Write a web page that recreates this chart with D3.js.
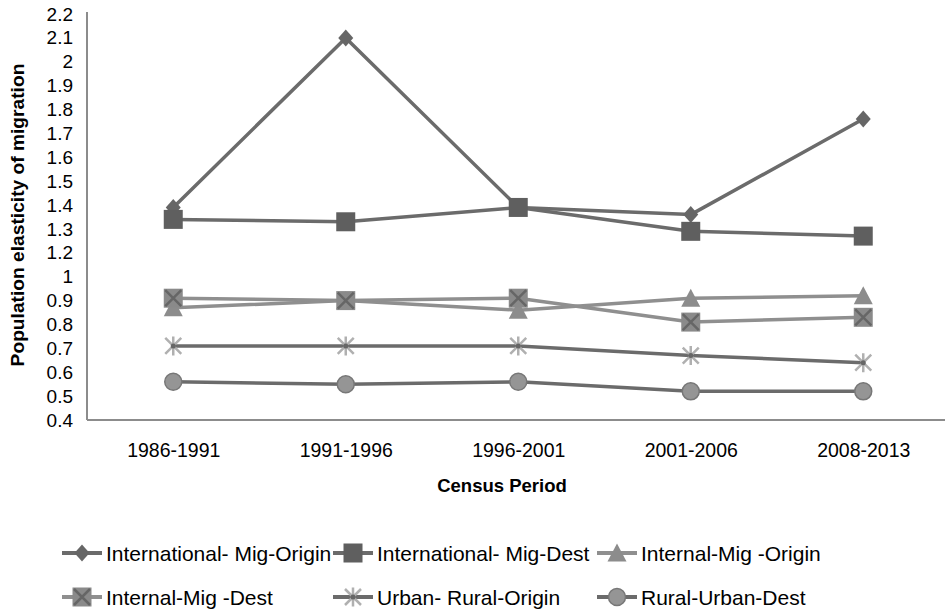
<!DOCTYPE html>
<html>
<head>
<meta charset="utf-8">
<script src="https://cdn.jsdelivr.net/npm/d3@7"></script>
<style>
  html, body { margin: 0; padding: 0; background: #fff; }
  svg { display: block; font-family: "Liberation Sans", Arial, sans-serif; }
</style>
</head>
<body>
<svg id="chart" width="945" height="610"></svg>
<script>
// ---- data ----
const categories = ["1986-1991", "1991-1996", "1996-2001", "2001-2006", "2008-2013"];
const intlMigOrigin = [1.39, 2.10, 1.39, 1.36, 1.76];
const intlMigDest = [1.34, 1.33, 1.39, 1.29, 1.27];
const internalMigOrigin = [0.87, 0.90, 0.86, 0.91, 0.92];
const internalMigDest = [0.91, 0.90, 0.91, 0.81, 0.83];
const urbanRuralOrigin = [0.71, 0.71, 0.71, 0.67, 0.64];
const ruralUrbanDest = [0.56, 0.55, 0.56, 0.52, 0.52];
const seriesNames = ["International- Mig-Origin", "International- Mig-Dest", "Internal-Mig -Origin",
                     "Internal-Mig -Dest", "Urban- Rural-Origin", "Rural-Urban-Dest"];
const yTickValues = [0.4, 0.5, 0.6, 0.7, 0.8, 0.9, 1.0, 1.2, 1.3, 1.4, 1.5, 1.6, 1.7, 1.8, 1.9, 2.0, 2.1, 2.2];
const yTickLabels = ["0.4", "0.5", "0.6", "0.7", "0.8", "0.9", "1", "1.2", "1.3", "1.4", "1.5", "1.6", "1.7", "1.8", "1.9", "2", "2.1", "2.2"];
const xTitle = "Census Period";
const yTitle = "Population elasticity of migration";

// ---- layout ----
const svg = d3.select("#chart");
const pLeft = 87, pRight = 949.5, pTop = 14, pBottom = 420;
const step = (pBottom - pTop) / (yTickValues.length - 1);

const x = d3.scalePoint().domain(categories).range([pLeft, pRight]).padding(0.5);
// the printed axis has evenly spaced labels (no 1.1), so map values label-to-label
const y = d3.scaleLinear()
  .domain([0.4, 1.0, 1.2, 2.2])
  .range([pBottom, pBottom - 6 * step, pBottom - 7 * step, pTop]);

const axisColor = "#8c8c8c";

// axes
const xAxis = svg.append("g").attr("transform", `translate(0,${pBottom})`)
  .call(d3.axisBottom(x).tickSize(0).tickPadding(23));
xAxis.select(".domain").attr("stroke", axisColor).attr("stroke-width", 2)
  .attr("d", `M${pLeft},0H945`);
xAxis.selectAll("text").attr("font-size", 19.5).attr("fill", "#000")
  .attr("font-family", "Liberation Sans, Arial, sans-serif");

const yAxis = svg.append("g").attr("transform", `translate(${pLeft},0)`)
  .call(d3.axisLeft(y).tickValues(yTickValues).tickSize(0).tickPadding(14)
    .tickFormat((d, i) => yTickLabels[i]));
yAxis.select(".domain").attr("stroke", axisColor).attr("stroke-width", 2)
  .attr("d", `M0,${pTop - 2}V${pBottom}`);
yAxis.selectAll("text").attr("font-size", 19).attr("fill", "#000")
  .attr("font-family", "Liberation Sans, Arial, sans-serif");

// titles
svg.append("text").attr("x", (pLeft + 945) / 2 - 14).attr("y", 492)
  .attr("text-anchor", "middle").attr("font-weight", "bold").attr("font-size", 18.5)
  .text(xTitle);
svg.append("text").attr("transform", `translate(24,${(pTop + pBottom) / 2 - 2}) rotate(-90)`)
  .attr("text-anchor", "middle").attr("font-weight", "bold").attr("font-size", 19.2)
  .text(yTitle);

// ---- marker drawing ----
const dark = "#6b6b6b", light = "#8f8f8f";
function marker(g, type) {
  if (type === "diamond") {
    g.append("path").attr("d", "M0,-8.5L7.5,0L0,8.5L-7.5,0Z").attr("fill", "#666");
  } else if (type === "square") {
    g.append("rect").attr("x", -9.5).attr("y", -9.5).attr("width", 19).attr("height", 19).attr("fill", "#5f5f5f");
  } else if (type === "triangle") {
    g.append("path").attr("d", "M0,-9.5L9.5,8.5L-9.5,8.5Z").attr("fill", "#8c8c8c");
  } else if (type === "xsquare") {
    g.append("rect").attr("x", -9.5).attr("y", -9.5).attr("width", 19).attr("height", 19).attr("fill", "#8a8a8a");
    g.append("path").attr("d", "M-8,-8L8,8M8,-8L-8,8").attr("stroke", "#666").attr("stroke-width", 2.5);
  } else if (type === "star") {
    g.append("path").attr("d", "M-8,-8L8,8M8,-8L-8,8M0,-9.5V9.5").attr("stroke", "#b0b0b0").attr("stroke-width", 2.5);
    g.append("circle").attr("r", 2.5).attr("fill", "#666");
  } else if (type === "circle") {
    g.append("circle").attr("r", 8.5).attr("fill", "#959595").attr("stroke", "#777").attr("stroke-width", 1.5);
  }
}

const series = [
  { name: seriesNames[0], values: intlMigOrigin, color: dark, marker: "diamond" },
  { name: seriesNames[1], values: intlMigDest, color: dark, marker: "square" },
  { name: seriesNames[2], values: internalMigOrigin, color: light, marker: "triangle" },
  { name: seriesNames[3], values: internalMigDest, color: light, marker: "xsquare" },
  { name: seriesNames[4], values: urbanRuralOrigin, color: dark, marker: "star" },
  { name: seriesNames[5], values: ruralUrbanDest, color: dark, marker: "circle" }
];

const line = d3.line().x((d, i) => x(categories[i])).y(d => y(d));

series.forEach(s => {
  const g = svg.append("g");
  g.append("path").attr("d", line(s.values)).attr("fill", "none")
    .attr("stroke", s.color).attr("stroke-width", 3.5).attr("stroke-linejoin", "round");
  s.values.forEach((v, i) => {
    const m = g.append("g").attr("transform", `translate(${x(categories[i])},${y(v)})`);
    marker(m, s.marker);
  });
});

// ---- legend ----
const legendCols = [62, 333, 597];
const legendRows = [553, 597];
series.forEach((s, i) => {
  const lx = legendCols[i % 3], ly = legendRows[Math.floor(i / 3)];
  const g = svg.append("g").attr("transform", `translate(${lx},${ly})`);
  g.append("line").attr("x1", 0).attr("x2", 40).attr("y1", 0).attr("y2", 0)
    .attr("stroke", s.color).attr("stroke-width", 4);
  const m = g.append("g").attr("transform", "translate(20,0)");
  marker(m, s.marker);
  g.append("text").attr("x", 44).attr("y", 7.5).attr("font-size", 21).attr("fill", "#000").text(s.name);
});
</script>
</body>
</html>
